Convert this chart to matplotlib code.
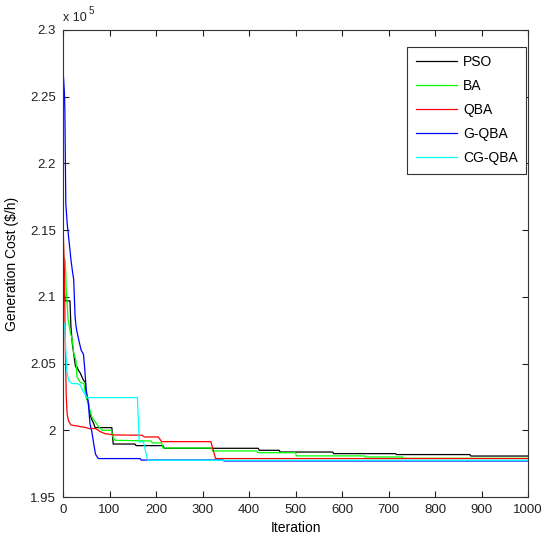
import matplotlib
matplotlib.use("Agg")
import matplotlib.pyplot as plt
from matplotlib.ticker import FuncFormatter

plt.rcParams['font.family'] = ['Liberation Sans', 'DejaVu Sans']

# ---- data (breakpoints; cost in $/h) ----
pso_iter = [0, 2, 4, 15, 17, 20, 24, 27, 30, 33, 37, 44, 48, 50, 55, 58, 62, 66, 69, 105, 108,
            155, 157, 215, 218, 420, 422, 465, 467, 580, 582, 715, 717, 875, 877, 1000]
pso_cost = [212000, 211000, 209700, 209700, 207800, 206500, 205500, 204750, 204750, 204500, 204300,
            203750, 203600, 202500, 202000, 201200, 200800, 200500, 200200, 200200, 198970,
            198970, 198850, 198850, 198650, 198650, 198500, 198500, 198370, 198370, 198250,
            198250, 198180, 198180, 198070, 198070]

ba_iter = [0, 1, 5, 7, 11, 16, 20, 23, 28, 30, 37, 45, 48, 55, 62, 70, 76, 84, 104, 108, 112,
           190, 192, 212, 215, 320, 322, 417, 419, 500, 502, 648, 650, 730, 732, 1000]
ba_cost = [222800, 213000, 212700, 210500, 208300, 207300, 206800, 205800, 205200, 204000, 203600,
           203500, 202800, 201900, 201000, 200600, 200300, 200000, 200000, 199450, 199250,
           199200, 199050, 199050, 198670, 198670, 198450, 198450, 198320, 198320, 198080,
           198080, 198000, 198000, 197900, 197900]

qba_iter = [0, 3, 5, 7, 9, 12, 17, 50, 55, 70, 80, 90, 110, 170, 175, 205, 212, 318, 328, 1000]
qba_cost = [215500, 212000, 206000, 202500, 201200, 200700, 200400, 200200, 200130, 200130,
            199900, 199750, 199650, 199630, 199500, 199500, 199150, 199150, 197880, 197880]

gqba_iter = [0, 1, 3, 4, 6, 9, 12, 15, 17, 20, 23, 26, 28, 30, 35, 39, 44, 47, 50, 54, 58, 62,
             66, 70, 76, 166, 168, 344, 346, 1000]
gqba_cost = [227000, 226500, 225300, 224000, 217000, 215500, 214500, 213500, 212800, 212000,
             211300, 208500, 207800, 207400, 206600, 206000, 205700, 204500, 203000, 202200,
             200500, 199900, 199000, 198200, 197880, 197880, 197770, 197770, 197700, 197700]

cgqba_iter = [0, 4, 6, 8, 12, 19, 30, 37, 44, 52, 158, 160, 164, 173, 182, 1000]
cgqba_cost = [208200, 207800, 206000, 204500, 203750, 203500, 203500, 203400, 202870, 202450,
              202450, 202450, 199130, 199130, 197750, 197750]

series = [
    ("PSO", pso_iter, pso_cost, "#000000"),
    ("BA", ba_iter, ba_cost, "#00ff00"),
    ("QBA", qba_iter, qba_cost, "#ff0000"),
    ("G-QBA", gqba_iter, gqba_cost, "#0000ff"),
    ("CG-QBA", cgqba_iter, cgqba_cost, "#00ffff"),
]

x_ticks = list(range(0, 1001, 100))
y_ticks = [1.95, 2.0, 2.05, 2.1, 2.15, 2.2, 2.25, 2.3]
SCALE = 1e5

fig = plt.figure(figsize=(5.42, 5.46), dpi=100)
ax = fig.add_axes([63 / 542, 1 - 497 / 546, 465 / 542, 467 / 546])

for name, it, cost, col in series:
    ax.plot(it, [c / SCALE for c in cost], color=col, lw=0.9, label=name)

ax.set_xlim(0, 1000)
ax.set_ylim(1.95, 2.3)
ax.set_xticks(x_ticks)
ax.set_yticks(y_ticks)
ax.yaxis.set_major_formatter(FuncFormatter(lambda v, p: f"{v:g}"))
ax.tick_params(direction='in', length=4.5, width=0.8, top=True, right=True,
               labelsize=9.5, colors='#222222', pad=5)
for s in ax.spines.values():
    s.set_color('#333333')
    s.set_linewidth(0.8)

ax.set_xlabel("Iteration", fontsize=10, labelpad=4)
ax.set_ylabel("Generation Cost ($/h)", fontsize=10, labelpad=8)

fig.text(63 / 542, 1 - 21 / 546, "x 10", fontsize=9, color='#222222', ha='left', va='baseline')
fig.text(89 / 542, 1 - 14 / 546, "5", fontsize=7, color='#222222', ha='left', va='baseline')

leg = ax.legend(loc='upper right', bbox_to_anchor=(0.9957, 0.9636), borderaxespad=0,
                fontsize=10, handlelength=3.0, handletextpad=0.4, labelspacing=0.72,
                borderpad=0.6, fancybox=False, framealpha=1, edgecolor='#333333')
leg.get_frame().set_linewidth(0.8)

fig.savefig("out.png", dpi=100)
